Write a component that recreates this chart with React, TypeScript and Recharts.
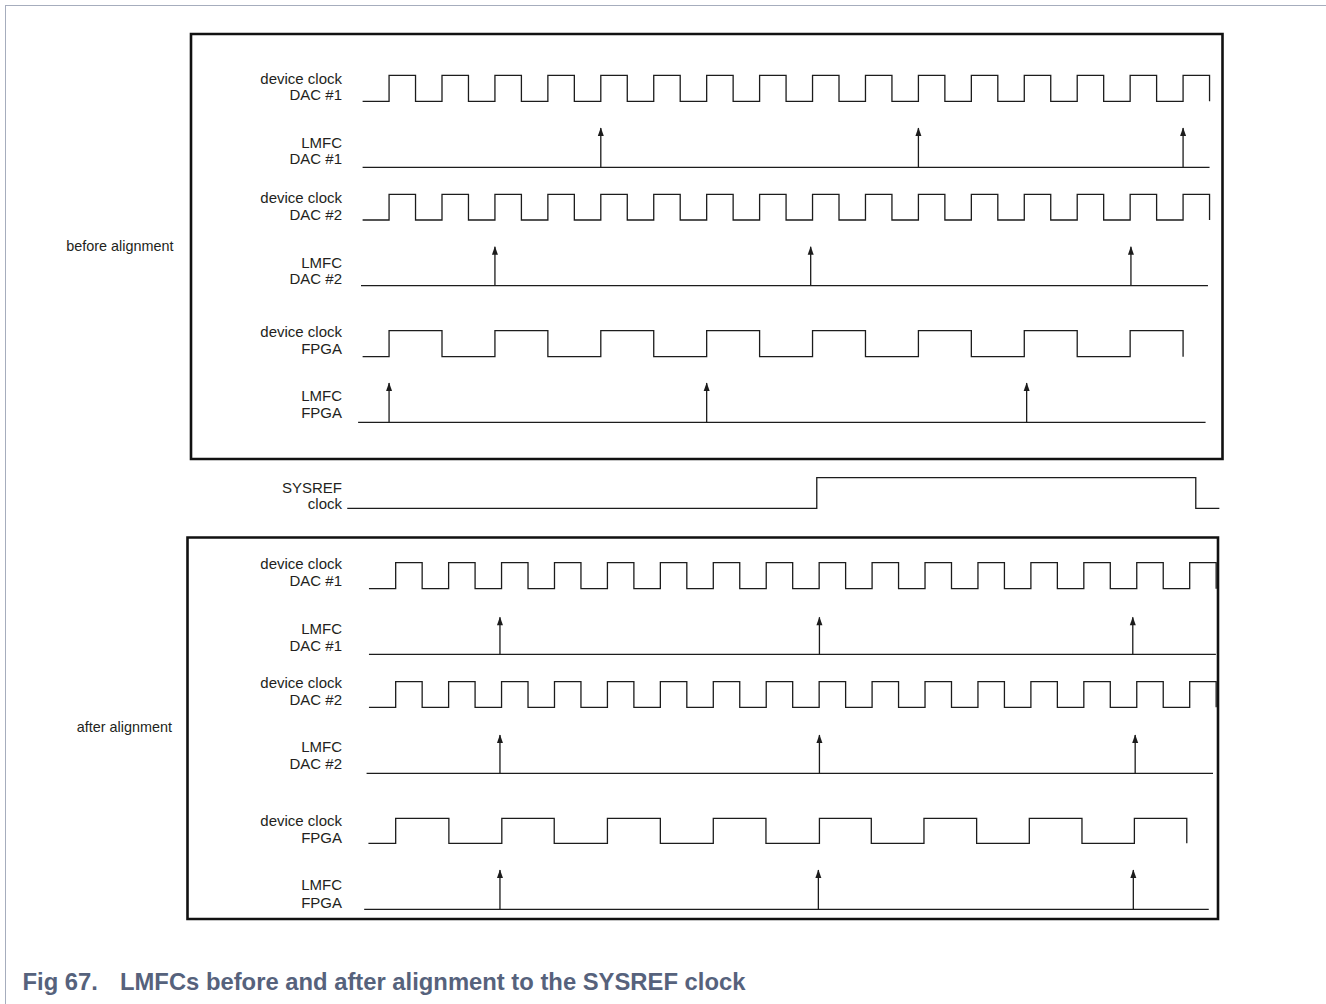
import React from 'react'
import { ComposedChart, Line, XAxis, YAxis, ReferenceArea, Customized } from 'recharts'

// Timing diagram: LMFC before / after SYSREF alignment
// time unit = half a DAC device-clock period

// ── data (edge / pulse times) ───────────────────────────────────────────────
const DAC_CLK_BEFORE_EDGES = [
  1, 2, 3, 4, 5, 6, 7, 8, 9, 10, 11, 12, 13, 14, 15, 16,
  17, 18, 19, 20, 21, 22, 23, 24, 25, 26, 27, 28, 29, 30, 31, 32,
]
const FPGA_CLK_BEFORE_EDGES = [1, 3, 5, 7, 9, 11, 13, 15, 17, 19, 21, 23, 25, 27, 29, 31]
const LMFC_DAC1_BEFORE = [9, 21, 31]
const LMFC_DAC2_BEFORE = [5, 16.93, 29.03]
const LMFC_FPGA_BEFORE = [1, 13, 25.09]

const SYSREF_EDGES = [17.16, 31.48]

const DAC_CLK_AFTER_EDGES = [
  1.25, 2.25, 3.25, 4.25, 5.25, 6.25, 7.25, 8.25, 9.25, 10.25, 11.25, 12.25, 13.25, 14.25, 15.25, 16.25,
  17.25, 18.25, 19.25, 20.25, 21.25, 22.25, 23.25, 24.25, 25.25, 26.25, 27.25, 28.25, 29.25, 30.25, 31.25, 32.25,
]
const FPGA_CLK_AFTER_EDGES = [
  1.25, 3.26, 5.26, 7.24, 9.25, 11.25, 13.25, 15.24,
  17.26, 19.22, 21.21, 23.2, 25.19, 27.18, 29.16, 31.14,
]
const LMFC_DAC1_AFTER = [5.19, 17.26, 29.1]
const LMFC_DAC2_AFTER = [5.19, 17.26, 29.19]
const LMFC_FPGA_AFTER = [5.19, 17.22, 29.12]

// ── layout ──────────────────────────────────────────────────────────────────
const W = 1326
const H = 1004
const T_DOMAIN: [number, number] = [-13.7, 36.4]

const INK = '#1c1c1c'
const TEXT = '#231f20'
const FONT = '"Liberation Sans", Arial, sans-serif'

type Row = {
  id: string
  l1: string
  l2: string
  kind: 'clock' | 'pulse'
  times: number[]
  low: number
  amp: number
  t0: number
  t1: number
  y1: number
  y2: number
}

const ROWS: Row[] = [
  { id: 'b1', l1: 'device clock', l2: 'DAC #1', kind: 'clock', times: DAC_CLK_BEFORE_EDGES, low: 101.3, amp: 26, t0: 0, t1: 32, y1: 83.5, y2: 100.3 },
  { id: 'b2', l1: 'LMFC', l2: 'DAC #1', kind: 'pulse', times: LMFC_DAC1_BEFORE, low: 167.3, amp: 39.3, t0: 0, t1: 32, y1: 147.7, y2: 164.4 },
  { id: 'b3', l1: 'device clock', l2: 'DAC #2', kind: 'clock', times: DAC_CLK_BEFORE_EDGES, low: 220, amp: 25.7, t0: 0, t1: 32, y1: 203.4, y2: 220.1 },
  { id: 'b4', l1: 'LMFC', l2: 'DAC #2', kind: 'pulse', times: LMFC_DAC2_BEFORE, low: 285.7, amp: 39, t0: -0.06, t1: 31.94, y1: 267.7, y2: 284.4 },
  { id: 'b5', l1: 'device clock', l2: 'FPGA', kind: 'clock', times: FPGA_CLK_BEFORE_EDGES, low: 356.7, amp: 26, t0: 0, t1: 31, y1: 337.4, y2: 354.4 },
  { id: 'b6', l1: 'LMFC', l2: 'FPGA', kind: 'pulse', times: LMFC_FPGA_BEFORE, low: 422.3, amp: 39.3, t0: -0.17, t1: 31.85, y1: 401.4, y2: 418.4 },
  { id: 's', l1: 'SYSREF', l2: 'clock', kind: 'clock', times: SYSREF_EDGES, low: 508.3, amp: 30.6, t0: -0.58, t1: 32.37, y1: 492.7, y2: 509.3 },
  { id: 'a1', l1: 'device clock', l2: 'DAC #1', kind: 'clock', times: DAC_CLK_AFTER_EDGES, low: 588.7, amp: 26, t0: 0.24, t1: 32.25, y1: 569.4, y2: 586.4 },
  { id: 'a2', l1: 'LMFC', l2: 'DAC #1', kind: 'pulse', times: LMFC_DAC1_AFTER, low: 654.3, amp: 37, t0: 0.24, t1: 32.24, y1: 634.4, y2: 651.4 },
  { id: 'a3', l1: 'device clock', l2: 'DAC #2', kind: 'clock', times: DAC_CLK_AFTER_EDGES, low: 707.3, amp: 25.6, t0: 0.24, t1: 32.25, y1: 688.4, y2: 705.4 },
  { id: 'a4', l1: 'LMFC', l2: 'DAC #2', kind: 'pulse', times: LMFC_DAC2_AFTER, low: 773.3, amp: 38.3, t0: 0.15, t1: 32.13, y1: 752.4, y2: 769.4 },
  { id: 'a5', l1: 'device clock', l2: 'FPGA', kind: 'clock', times: FPGA_CLK_AFTER_EDGES, low: 843.3, amp: 25, t0: 0.22, t1: 31.14, y1: 826.4, y2: 843.4 },
  { id: 'a6', l1: 'LMFC', l2: 'FPGA', kind: 'pulse', times: LMFC_FPGA_AFTER, low: 909.3, amp: 39.3, t0: 0.06, t1: 31.97, y1: 890.4, y2: 908.4 },
]

// edges toggle the level, starting low
function clockPoints(t0: number, edges: number[], t1: number) {
  const pts = [{ t: t0, v: 0 }]
  edges.forEach((e, i) => pts.push({ t: e, v: i % 2 === 0 ? 1 : 0 }))
  if (t1 > edges[edges.length - 1]) pts.push({ t: t1, v: edges.length % 2 })
  return pts
}

// flat baseline with a spike for each LMFC edge
function pulsePoints(t0: number, pulses: number[], t1: number) {
  const pts = [{ t: t0, v: 0 }]
  pulses.forEach(p => pts.push({ t: p, v: 0 }, { t: p, v: 1 }, { t: p, v: 0 }))
  pts.push({ t: t1, v: 0 })
  return pts
}

function ArrowHead(props: any) {
  const { cx, cy, payload, index } = props
  if (!payload || payload.v !== 1 || cx == null) return <g key={`d${index}`} />
  return <path key={`d${index}`} d={`M${cx},${cy - 0.5} L${cx - 3},${cy + 8} L${cx + 3},${cy + 8} Z`} fill={INK} />
}

function Labels() {
  return (
    <g fontFamily={FONT} fill={TEXT}>
      {ROWS.map(r => (
        <g key={r.id} fontSize={15} textAnchor="end">
          <text x={342} y={r.y1}>{r.l1}</text>
          <text x={342} y={r.y2}>{r.l2}</text>
        </g>
      ))}
      <text x={173.5} y={250.8} fontSize={14.4} textAnchor="end">before alignment</text>
      <text x={172} y={731.8} fontSize={14.4} textAnchor="end">after alignment</text>
      <g fontWeight="bold" fontSize={23.8} fill="#56627c">
        <text x={22.5} y={990}>Fig 67.</text>
        <text x={120} y={990}>LMFCs before and after alignment to the SYSREF clock</text>
      </g>
    </g>
  )
}

const px = (x: number) => T_DOMAIN[0] + (x / W) * (T_DOMAIN[1] - T_DOMAIN[0])

export default function App() {
  return (
    <div style={{ position: 'absolute', left: 0, top: 0, width: W, height: H, background: '#fff' }}>
      <div style={{
        position: 'absolute', left: 5, top: 5, width: W - 5, height: H - 5,
        borderTop: '1.5px solid #a6adbd', borderLeft: '1.5px solid #a6adbd',
      }} />
      <div style={{ position: 'absolute', left: 0, top: 0 }}>
        <ComposedChart width={W} height={H} margin={{ top: 0, right: 0, bottom: 0, left: 0 }}>
          <XAxis type="number" dataKey="t" domain={T_DOMAIN} hide allowDataOverflow />
          <YAxis type="number" domain={[0, H]} reversed hide allowDataOverflow />

          {/* kotak "before" dan "after" */}
          <ReferenceArea x1={px(191)} x2={px(1222.5)} y1={34} y2={459} fill="none" stroke="#111" strokeWidth={2.6} ifOverflow="visible" />
          <ReferenceArea x1={px(187.5)} x2={px(1218)} y1={537.5} y2={919} fill="none" stroke="#111" strokeWidth={2.6} ifOverflow="visible" />

          {ROWS.map(r => (
            <Line
              key={r.id}
              data={r.kind === 'clock' ? clockPoints(r.t0, r.times, r.t1) : pulsePoints(r.t0, r.times, r.t1)}
              dataKey={(d: any) => r.low - d.v * r.amp}
              type={r.kind === 'clock' ? 'stepAfter' : 'linear'}
              stroke={INK}
              strokeWidth={1.3}
              strokeLinejoin="miter"
              strokeLinecap="butt"
              dot={r.kind === 'pulse' ? ArrowHead : false}
              activeDot={false}
              isAnimationActive={false}
            />
          ))}

          <Customized component={Labels} />
        </ComposedChart>
      </div>
    </div>
  )
}
